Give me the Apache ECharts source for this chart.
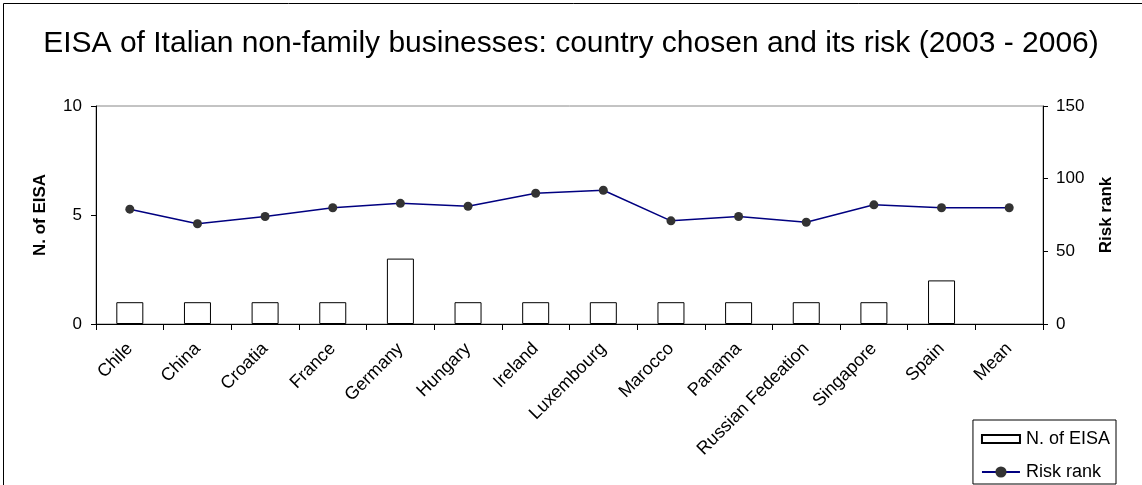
<!DOCTYPE html>
<html>
<head>
<meta charset="utf-8">
<title>EISA of Italian non-family businesses</title>
<script src="https://cdn.jsdelivr.net/npm/echarts@6/dist/echarts.min.js"></script>
<style>
html, body { margin: 0; padding: 0; background: #fff; }
#container { width: 1142px; height: 485px; }
</style>
</head>
<body>
<div id="container"></div>
<script type="text/javascript">
// data
var countries = ['Chile', 'China', 'Croatia', 'France', 'Germany', 'Hungary', 'Ireland',
	'Luxembourg', 'Marocco', 'Panama', 'Russian Fedeation', 'Singapore', 'Spain', 'Mean'];
var eisaCount = [1, 1, 1, 1, 3, 1, 1, 1, 1, 1, 1, 1, 2, null];
var riskRank = [79, 69, 74, 80, 83, 81, 90, 92, 71, 74, 70, 82, 80, 80];

var fontName = 'Liberation Sans, Arial, sans-serif';

var myChart = echarts.init(document.getElementById('container'));

var option = {
	backgroundColor: '#fff',
	animation: false,
	textStyle: { fontFamily: fontName, color: '#000' },
	title: {
		text: 'EISA of Italian non-family businesses: country chosen and its risk (2003 - 2006)',
		left: 'center',
		top: 24,
		textStyle: { fontFamily: fontName, fontSize: 30, fontWeight: 'normal', color: '#000' }
	},
	graphic: [{
		type: 'rect',
		shape: { x: 3.5, y: 3.5, width: 1160, height: 500 },
		style: { fill: null, stroke: '#000', lineWidth: 1 },
		silent: true
	}],
	legend: {
		orient: 'vertical',
		right: 26,
		bottom: 1,
		itemGap: 15,
		padding: [10, 6, 3, 8],
		borderColor: '#000',
		borderWidth: 1,
		backgroundColor: '#fff',
		itemWidth: 38,
		itemHeight: 14,
		textStyle: { fontFamily: fontName, fontSize: 18, color: '#000', padding: [0, 0, 0, 1] },
		data: [
			{ name: 'N. of EISA', icon: 'path://M0,0 L38,0 L38,8 L0,8 Z' },
			{ name: 'Risk rank' }
		]
	},
	grid: {
		left: 96,
		right: 99,
		top: 106,
		bottom: 161,
		show: true,
		borderColor: '#888',
		borderWidth: 1
	},
	xAxis: {
		type: 'category',
		data: countries,
		axisLine: { lineStyle: { color: '#000', width: 1 } },
		axisTick: { show: true, alignWithLabel: false, length: 6, lineStyle: { color: '#000' } },
		axisLabel: {
			interval: 0,
			rotate: 45,
			fontSize: 18,
			color: '#000',
			margin: 22,
			fontFamily: fontName
		}
	},
	yAxis: [{
		type: 'value',
		min: 0,
		max: 10,
		interval: 5,
		name: 'N. of EISA',
		nameLocation: 'middle',
		nameGap: 47,
		nameRotate: 90,
		nameTextStyle: { fontFamily: fontName, fontSize: 17, fontWeight: 'bold', color: '#000' },
		axisLine: { show: true, lineStyle: { color: '#000' } },
		axisTick: { show: true, length: 5, lineStyle: { color: '#000' } },
		axisLabel: { fontSize: 17, color: '#000', margin: 14 },
		splitLine: { show: false }
	}, {
		type: 'value',
		min: 0,
		max: 150,
		interval: 50,
		position: 'right',
		name: 'Risk rank',
		nameLocation: 'middle',
		nameGap: 55,
		nameRotate: 90,
		nameTextStyle: { fontFamily: fontName, fontSize: 17, fontWeight: 'bold', color: '#000' },
		axisLine: { show: true, lineStyle: { color: '#000' } },
		axisTick: { show: true, length: 5, lineStyle: { color: '#000' } },
		axisLabel: { fontSize: 17, color: '#000', margin: 13 },
		splitLine: { show: false }
	}],
	series: [{
		name: 'N. of EISA',
		type: 'bar',
		yAxisIndex: 0,
		data: eisaCount,
		barWidth: 27,
		itemStyle: { color: '#fff', borderColor: '#000', borderWidth: 1 }
	}, {
		name: 'Risk rank',
		type: 'line',
		yAxisIndex: 1,
		data: riskRank,
		symbol: 'circle',
		symbolSize: 9,
		lineStyle: { color: '#000080', width: 1.5 },
		itemStyle: { color: '#333' }
	}]
};

myChart.setOption(option);
</script>
</body>
</html>
